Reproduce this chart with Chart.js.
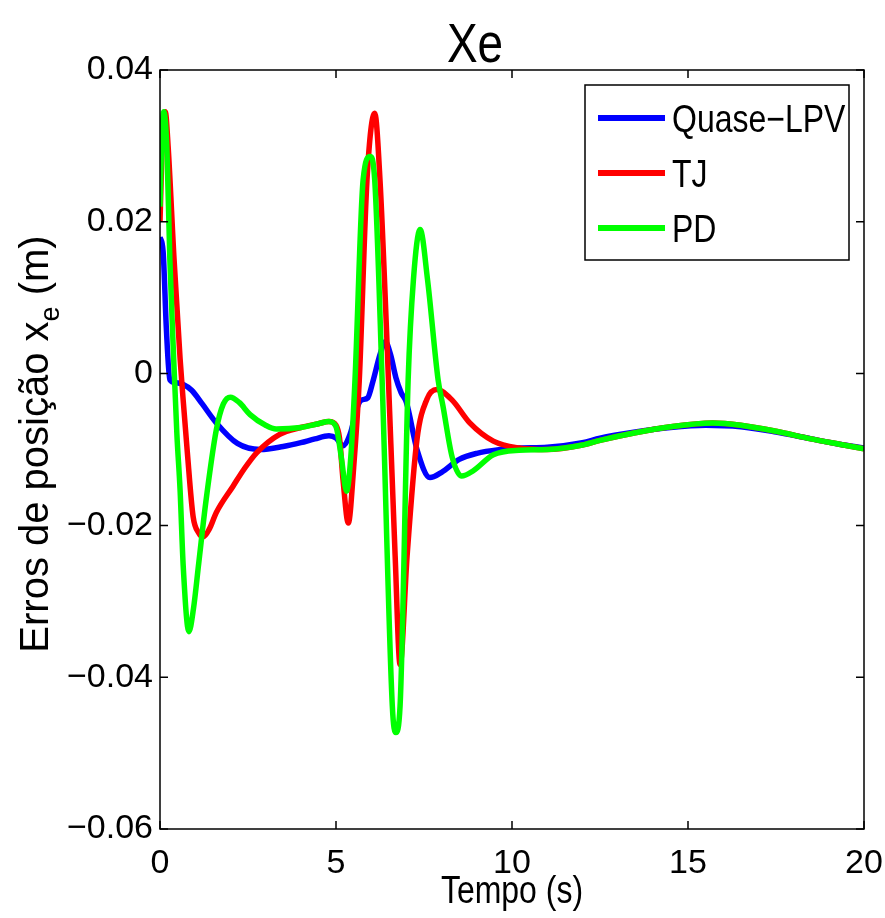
<!DOCTYPE html>
<html><head><meta charset="utf-8">
<script src="https://cdn.jsdelivr.net/npm/chart.js@4/dist/chart.umd.min.js"></script>
<style>html,body{margin:0;padding:0;background:#fff;overflow:hidden;}</style>
</head><body>
<canvas id="c" width="885" height="918"></canvas>
<script>
// ---- text ----
const chartTitle = 'Xe';
const xLabel = 'Tempo (s)';
const yLabelMain = 'Erros de posição x';
const yLabelSub = 'e';
const yLabelTail = ' (m)';
const seriesNames = ['Quase\u2212LPV', 'TJ', 'PD'];
const seriesColors = ['#0000ff', '#ff0000', '#00ff00'];
// ---- ticks ----
const xTicks = [0, 5, 10, 15, 20];
const yTicks = [0.04, 0.02, 0, -0.02, -0.04, -0.06];
// ---- series: Quase-LPV ----
const tLPV = [0,0.09,0.18,0.28,0.45,0.65,0.9,1.2,1.6,2.2,2.85,3.5,4.0,4.4,4.8,5.0,5.2,5.4,5.6,5.72,5.9,6.05,6.25,6.4,6.55,6.7,6.85,7.0,7.3,7.67,8.0,8.5,9.0,9.66,10.2,11,12,12.5,13.5,14.5,15.5,16.5,17.5,18.5,19.3,20];
const vLPV = [0.018,0.016,0.006,-0.0008,-0.0012,-0.0014,-0.0022,-0.0040,-0.0065,-0.0092,-0.0100,-0.0096,-0.0091,-0.0086,-0.0082,-0.0085,-0.0095,-0.0080,-0.0045,-0.0035,-0.0032,-0.0010,0.0025,0.0042,0.0025,-0.0005,-0.0025,-0.0038,-0.0100,-0.0137,-0.0130,-0.0113,-0.0105,-0.0100,-0.0098,-0.0097,-0.0091,-0.0085,-0.0077,-0.0071,-0.0068,-0.0070,-0.0077,-0.0086,-0.0093,-0.0098];
// ---- series: TJ ----
const tTJ = [0,0.07,0.15,0.23,0.4,0.57,0.65,0.77,0.94,1.1,1.23,1.4,1.6,2.08,2.4,2.75,3.4,4.0,4.5,4.8,5.0,5.1,5.2,5.35,5.5,5.66,5.88,6.1,6.25,6.45,6.68,6.82,7.02,7.3,7.58,7.86,8.3,8.8,9.47,10.2,11,12,12.5,13.5,14.5,15.7,16.5,17.5,18.5,19.3,20];
const vTJ = [0.020,0.031,0.0345,0.030,0.015,0.002,-0.003,-0.010,-0.0188,-0.0210,-0.0215,-0.0205,-0.0183,-0.0148,-0.0125,-0.0104,-0.0080,-0.0071,-0.0066,-0.0063,-0.0068,-0.0085,-0.0140,-0.0197,-0.0125,-0.0010,0.0255,0.0343,0.0255,0.0040,-0.0240,-0.0383,-0.0240,-0.0087,-0.0034,-0.0021,-0.0035,-0.0065,-0.0089,-0.0098,-0.0100,-0.0094,-0.0088,-0.0078,-0.0070,-0.0065,-0.0068,-0.0076,-0.0086,-0.0093,-0.0099];
// ---- series: PD ----
const tPD = [0,0.05,0.11,0.2,0.28,0.38,0.48,0.57,0.66,0.82,0.95,1.1,1.3,1.6,1.8,2.0,2.25,2.56,3.0,3.3,4.0,4.5,4.8,5.0,5.15,5.3,5.42,5.54,5.77,5.97,6.1,6.31,6.6,6.7,6.82,7.05,7.2,7.39,7.6,7.9,8.04,8.3,8.57,8.9,9.47,10.2,11,12,12.5,13.5,14.5,15.7,16.5,17.5,18.5,19.3,20];
const vPD = [0.022,0.031,0.0345,0.029,0.015,0.003,-0.008,-0.0153,-0.0254,-0.034,-0.031,-0.025,-0.017,-0.0074,-0.0040,-0.0031,-0.0038,-0.0054,-0.0068,-0.0073,-0.0071,-0.0066,-0.0063,-0.0070,-0.0110,-0.0155,-0.0110,-0.0008,0.0255,0.0286,0.0255,-0.0008,-0.0438,-0.0473,-0.0438,-0.0008,0.0124,0.0190,0.0124,-0.0008,-0.0043,-0.0110,-0.0135,-0.0128,-0.0107,-0.0101,-0.0100,-0.0094,-0.0088,-0.0078,-0.0070,-0.0065,-0.0068,-0.0076,-0.0086,-0.0093,-0.0099];

const FONT = "'Liberation Sans', Arial, sans-serif";
const NARROW_SCALE = 0.82;

const toPts = (ts, vs) => ts.map((t, i) => ({x: t, y: vs[i]}));
const seriesT = [tLPV, tTJ, tPD];
const seriesV = [vLPV, vTJ, vPD];

function narrowText(ctx, text, x, y, size, align) {
  ctx.save();
  ctx.font = size + 'px ' + FONT;
  ctx.translate(x, y);
  ctx.scale(NARROW_SCALE, 1);
  ctx.textAlign = align;
  ctx.fillText(text, 0, 0);
  ctx.restore();
}

const decor = {
  id: 'decor',
  afterDatasetsDraw(chart) {
    const {ctx, chartArea: a, scales: {x, y}} = chart;
    ctx.save();
    // frame + inward ticks
    ctx.strokeStyle = '#000';
    ctx.lineWidth = 1.5;
    ctx.strokeRect(a.left, a.top, a.right - a.left, a.bottom - a.top);
    const tl = 8;
    ctx.beginPath();
    xTicks.forEach(v => {
      const px = x.getPixelForValue(v);
      ctx.moveTo(px, a.bottom); ctx.lineTo(px, a.bottom - tl);
      ctx.moveTo(px, a.top); ctx.lineTo(px, a.top + tl);
    });
    yTicks.forEach(v => {
      const py = y.getPixelForValue(v);
      ctx.moveTo(a.left, py); ctx.lineTo(a.left + tl, py);
      ctx.moveTo(a.right, py); ctx.lineTo(a.right - tl, py);
    });
    ctx.stroke();

    // legend
    const lx = 585, ly = 85, lw = 264, lh = 175;
    ctx.fillStyle = '#fff';
    ctx.fillRect(lx, ly, lw, lh);
    ctx.strokeRect(lx, ly, lw, lh);
    const rowY = [118, 173, 228];
    ctx.textBaseline = 'alphabetic';
    chart.data.datasets.forEach((ds, i) => {
      ctx.strokeStyle = ds.borderColor;
      ctx.lineWidth = 6;
      ctx.beginPath();
      ctx.moveTo(598, rowY[i]); ctx.lineTo(665, rowY[i]);
      ctx.stroke();
      ctx.fillStyle = '#000';
      narrowText(ctx, ds.label, 672, rowY[i] + 14, 39, 'left');
    });

    // title
    ctx.fillStyle = '#000';
    narrowText(ctx, chartTitle, 475, 62, 56, 'center');

    // x label
    narrowText(ctx, xLabel, (a.left + a.right) / 2, 903, 39, 'center');

    // y label (rotated, with subscript)
    const fMain = '40px ' + FONT, fSub = '27px ' + FONT;
    ctx.font = fMain;
    const w1 = ctx.measureText(yLabelMain).width;
    const w3 = ctx.measureText(yLabelTail).width;
    ctx.font = fSub;
    const w2 = ctx.measureText(yLabelSub).width;
    const total = w1 + w2 + w3;
    ctx.translate(48, 444);
    ctx.rotate(-Math.PI / 2);
    ctx.textAlign = 'left';
    ctx.font = fMain;
    ctx.fillText(yLabelMain, -total / 2, 0);
    ctx.font = fSub;
    ctx.fillText(yLabelSub, -total / 2 + w1, 11);
    ctx.font = fMain;
    ctx.fillText(yLabelTail, -total / 2 + w1 + w2, 0);
    ctx.restore();
  }
};

new Chart(document.getElementById('c'), {
  type: 'line',
  data: {
    datasets: seriesNames.map((name, i) => ({
      label: name,
      data: toPts(seriesT[i], seriesV[i]),
      borderColor: seriesColors[i],
      backgroundColor: seriesColors[i],
      borderWidth: 5.5,
      pointRadius: 0,
      cubicInterpolationMode: 'monotone',
      fill: false,
      order: 3 - i
    }))
  },
  options: {
    responsive: false,
    animation: false,
    devicePixelRatio: 1,
    layout: {padding: {top: 70, right: 21, left: 0, bottom: 0}},
    plugins: {legend: {display: false}, tooltip: {enabled: false}, title: {display: false}},
    scales: {
      x: {
        type: 'linear', min: 0, max: 20,
        grid: {display: false, drawTicks: false},
        border: {display: false},
        afterBuildTicks: s => { s.ticks = xTicks.map(v => ({value: v})); },
        afterFit: s => { s.height = 89; s.paddingLeft = 0; s.paddingRight = 0; },
        ticks: {color: '#000', font: {family: FONT, size: 34}, padding: 14, maxRotation: 0,
                callback: v => String(v)}
      },
      y: {
        type: 'linear', min: -0.06, max: 0.04,
        grid: {display: false, drawTicks: false},
        border: {display: false},
        afterBuildTicks: s => { s.ticks = yTicks.map(v => ({value: v})); },
        afterFit: s => { s.width = 160; },
        ticks: {color: '#000', font: {family: FONT, size: 34}, padding: 7,
                callback: v => Math.abs(v) < 1e-9 ? '0' : (v < 0 ? '\u2212' : '') + Math.abs(v).toFixed(2)}
      }
    }
  },
  plugins: [decor]
});
</script>
</body></html>
